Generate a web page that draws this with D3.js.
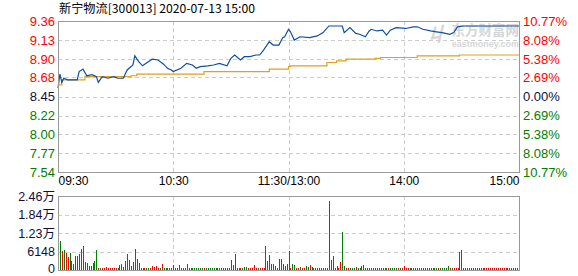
<!DOCTYPE html>
<meta charset="utf-8">
<style>
body { margin: 0; background: #fff; }
text { font-family: "Liberation Sans", "Noto Sans CJK SC", sans-serif; font-size: 12px; }
.grid line { stroke: #ccc; stroke-dasharray: 4,3; shape-rendering: crispEdges; }
.frame { fill: none; stroke: #999; shape-rendering: crispEdges; }
</style>
<svg width="578" height="276"></svg>
<script src="https://cdn.jsdelivr.net/npm/d3@7"></script>
<script>

var title = "新宁物流[300013] 2020-07-13 15:00";
var prevClose = 8.45;

var priceTicks = [9.36, 9.13, 8.90, 8.68, 8.45, 8.22, 8.00, 7.77, 7.54];
var pctTicks = ["10.77%", "8.08%", "5.38%", "2.69%", "0.00%", "2.69%", "5.38%", "8.08%", "10.77%"];
var timeTicks = [0, 60, 120, 180, 240];
var timeLabels = ["09:30", "10:30", "11:30/13:00", "14:00", "15:00"];
var volTicks = [24600, 18450, 12300, 6148, 0];
var volLabels = ["2.46万", "1.84万", "1.23万", "6148", "0"];

// minute index -> price
var priceMin = [0, 1, 2, 3, 5, 10, 11, 13, 15, 17, 18, 20, 21, 23, 26, 29, 31, 34, 36, 39, 40, 42, 44, 47, 49, 52, 55, 57, 59, 60,
  64, 67, 70, 72, 74, 78, 81, 84, 88, 90, 92, 95, 97, 100, 103, 105, 107, 110, 112, 115, 117, 118, 120,
  121, 123, 126, 131, 135, 138, 141, 148, 149, 152, 155, 157, 160, 162, 163, 166, 169, 171, 173, 176,
  181, 185, 187, 190, 194, 197, 200, 204, 206, 208, 211, 240];
var priceVal = [8.55, 8.72, 8.62, 8.67, 8.65, 8.65, 8.75, 8.78, 8.70, 8.71, 8.71, 8.69, 8.62, 8.69, 8.67, 8.69, 8.67, 8.67, 8.77, 8.83, 8.94, 8.87, 8.82, 8.87, 8.90, 8.89, 8.84, 8.79, 8.77, 8.75,
  8.79, 8.85, 8.83, 8.79, 8.81, 8.82, 8.83, 8.85, 8.82, 8.91, 8.95, 8.89, 8.93, 8.93, 8.95, 8.95, 9.01, 9.11, 9.07, 9.07, 9.16, 9.17, 9.26,
  9.23, 9.13, 9.17, 9.16, 9.18, 9.22, 9.30, 9.30, 9.22, 9.28, 9.21, 9.20, 9.17, 9.24, 9.26, 9.24, 9.25, 9.19, 9.25, 9.28,
  9.27, 9.29, 9.29, 9.26, 9.24, 9.23, 9.22, 9.20, 9.22, 9.29, 9.30, 9.30];

var avgMin = [0, 2, 8, 14, 38, 41, 75, 76, 109, 110, 120, 121, 138, 140, 145, 150, 165, 168, 187, 209, 240];
var avgVal = [8.59, 8.65, 8.65, 8.69, 8.70, 8.72, 8.72, 8.75, 8.75, 8.78, 8.81, 8.82, 8.82, 8.86, 8.88, 8.90, 8.91, 8.92, 8.94, 8.95, 8.95];

var volumes = [
  13000, 9700, 6400, 6700, 5600, 4200, 5600, 3100, 2100, 4700,
  4500, 5400, 7100, 8100, 2600, 2300, 1400, 1200, 2300, 2900,
  6700, 600, 600, 600, 600, 900, 600, 600, 600, 600,
  600, 600, 1800, 2100, 900, 2900, 5400, 3400, 1200, 2700,
  7100, 3800, 2300, 600, 600, 600, 600, 600, 600, 1400,
  900, 1300, 600, 600, 2100, 600, 600, 600, 600, 600,
  1800, 600, 600, 1800, 600, 600, 600, 2100, 600, 600,
  600, 600, 600, 600, 600, 600, 600, 600, 600, 600,
  600, 600, 600, 600, 600, 700, 600, 600, 600, 600,
  3400, 1500, 5400, 600, 600, 700, 600, 900, 900, 600,
  600, 600, 1500, 700, 600, 600, 600, 600, 8100, 3000,
  5100, 2000, 2000, 1300, 600, 3800, 3800, 2000, 1300, 2000,
  6200, 700, 2100, 1500, 600, 600, 900, 600, 600, 1200,
  900, 1500, 900, 600, 600, 600, 600, 600, 600, 600,
  600, 22800, 3400, 4500, 600, 1200, 600, 2600, 12700, 1200,
  600, 800, 600, 600, 600, 900, 600, 600, 1200, 1600,
  600, 600, 600, 600, 600, 600, 600, 600, 600, 600,
  600, 600, 600, 600, 600, 600, 600, 600, 600, 600,
  1300, 600, 800, 600, 600, 600, 600, 600, 600, 600,
  600, 600, 600, 600, 600, 600, 600, 600, 600, 600,
  600, 600, 600, 1300, 600, 600, 600, 600, 600, 5900,
  6600, 600, 600, 600, 600, 600, 600, 600, 600, 600,
  600, 600, 600, 600, 600, 600, 600, 600, 600, 600,
  600, 600, 600, 600, 600, 600, 600, 600, 600, 600,
  600];
var volDirs =
  "rgrgrrgrrr" + "rrrggggrrg" + "grgrrrrrrr" + "rggrrgrrrr" + "rrgggrggrr" +
  "rrrgrggrgg" + "ggrrgrrrgg" + "ggggggrggg" + "ggggrrgggr" + "rrgggrgggr" +
  "rrrrgrrrrr" + "rggrgrrgrg" + "rrggrrgrrg" + "grgrrrrrrr" + "rrrrrrrrgg" +
  "rrgggrgggg" + "rrrgggrggg" + "ggrggggrgr" + "rrrgggggrg" + "gggrggggrg" +
  "ggggrgrrrr" + "rrrrrrrrrr" + "rrrrrrrrrr" + "rrrrrrrrrr" + "r";

var svg = d3.select("svg");

var left = 58, right = 519;
var x = d3.scaleLinear().domain([0, 240]).range([left, right]);
var yP = d3.scaleLinear().domain([7.54, 9.36]).range([172, 21]);
var yV = d3.scaleLinear().domain([0, 24600]).range([270, 196]);

// title
svg.append("text")
    .attr("x", 59).attr("y", 13)
    .attr("textLength", 196).attr("lengthAdjust", "spacingAndGlyphs")
    .style("font-family", "'Noto Sans CJK SC', sans-serif")
    .style("fill", "#000")
    .text(title);

// watermark
var wm = svg.append("g").style("fill", "#d6d6d6");
wm.append("text").attr("x", 519).attr("y", 34.5).attr("text-anchor", "end")
    .style("font-size", "13.5px").style("font-weight", "bold")
    .style("font-family", "'Noto Sans CJK SC', sans-serif").text("东方财富网");
wm.append("text").attr("x", 519).attr("y", 47).attr("text-anchor", "end")
    .style("font-size", "9px").style("font-weight", "bold").text("eastmoney.com");
wm.append("text").attr("x", 436).attr("y", 41).attr("text-anchor", "middle")
    .style("font-size", "19px").style("font-weight", "bold").style("font-style", "italic")
    .style("font-family", "'Noto Sans CJK SC', sans-serif").text("丩");

// grids
var g1 = svg.append("g").attr("class", "grid");
g1.selectAll(".h").data(priceTicks.slice(1, -1)).enter().append("line")
    .attr("x1", left).attr("x2", right)
    .attr("y1", function(d) { return Math.round(yP(d)) + 0.5; })
    .attr("y2", function(d) { return Math.round(yP(d)) + 0.5; });
g1.selectAll(".v").data(timeTicks.slice(1, -1)).enter().append("line")
    .attr("x1", function(d) { return Math.round(x(d)) + 0.5; })
    .attr("x2", function(d) { return Math.round(x(d)) + 0.5; })
    .attr("y1", 21).attr("y2", 172);

var g2 = svg.append("g").attr("class", "grid");
g2.selectAll(".h").data(volTicks.slice(1, -1)).enter().append("line")
    .attr("x1", left).attr("x2", right)
    .attr("y1", function(d) { return Math.round(yV(d)) + 0.5; })
    .attr("y2", function(d) { return Math.round(yV(d)) + 0.5; });
g2.selectAll(".v").data(timeTicks.slice(1, -1)).enter().append("line")
    .attr("x1", function(d) { return Math.round(x(d)) + 0.5; })
    .attr("x2", function(d) { return Math.round(x(d)) + 0.5; })
    .attr("y1", 196).attr("y2", 270);

// volume bars
svg.append("g").selectAll("line").data(volumes).enter().append("line")
    .attr("x1", function(d, i) { return Math.round(x(i)) + 0.5; })
    .attr("x2", function(d, i) { return Math.round(x(i)) + 0.5; })
    .attr("y1", yV(0))
    .attr("y2", function(d) { return yV(d); })
    .style("stroke", function(d, i) { return volDirs[i] === "g" ? "#008000" : "#ff0000"; })
    .style("shape-rendering", "crispEdges");

// lines
var avgData = avgMin.map(function(m, i) { return [m, avgVal[i]]; });
var priceData = priceMin.map(function(m, i) { return [m, priceVal[i]]; });
var line = d3.line()
    .x(function(d) { return x(d[0]); })
    .y(function(d) { return yP(d[1]); })
    .curve(d3.curveStepAfter);

svg.append("path").datum(avgData)
    .attr("d", line)
    .style("fill", "none").style("stroke", "#e0a020").style("stroke-width", 1.2);

svg.append("path").datum(priceData)
    .attr("d", line.curve(d3.curveLinear))
    .style("fill", "none").style("stroke", "#0d4fa3").style("stroke-width", 1.2);

// frames
svg.append("rect").attr("class", "frame")
    .attr("x", left + 0.5).attr("y", 21.5).attr("width", right - left).attr("height", 151);
svg.append("rect").attr("class", "frame")
    .attr("x", left + 0.5).attr("y", 196.5).attr("width", right - left).attr("height", 74);

function pColor(d) {
  if (Math.abs(d - prevClose) < 0.001) return "#10103a";
  return d > prevClose ? "#ff0000" : "#008000";
}

// price axis left
var axL = svg.append("g").attr("transform", "translate(" + (left - 1) + ",0)")
    .call(d3.axisLeft(yP).tickValues(priceTicks).tickSize(0).tickPadding(2)
      .tickFormat(d3.format(".2f")));
axL.select(".domain").remove();
axL.selectAll("text").style("font-size", "13px").style("font-family", "'Liberation Sans', sans-serif")
    .style("fill", function(d) { return pColor(d); });

// percent axis right
var axR = svg.append("g").attr("transform", "translate(" + (right + 2) + ",0)")
    .call(d3.axisRight(yP).tickValues(priceTicks).tickSize(0).tickPadding(2)
      .tickFormat(function(d, i) { return pctTicks[i]; }));
axR.select(".domain").remove();
axR.selectAll("text").style("font-size", "13px").style("font-family", "'Liberation Sans', sans-serif")
    .style("fill", function(d) { return pColor(d); });

// time axis
var axB = svg.append("g").attr("transform", "translate(0,176)")
    .call(d3.axisBottom(x).tickValues(timeTicks).tickSize(0).tickPadding(0)
      .tickFormat(function(d, i) { return timeLabels[i]; }));
axB.select(".domain").remove();
axB.selectAll("text").style("fill", "#000").style("font-size", "12px")
    .attr("text-anchor", function(d, i) { return i === 0 ? "start" : (i === timeTicks.length - 1 ? "end" : "middle"); });

// volume axis
var axV = svg.append("g").attr("transform", "translate(" + (left - 2) + ",0)")
    .call(d3.axisLeft(yV).tickValues(volTicks).tickSize(0).tickPadding(1)
      .tickFormat(function(d, i) { return volLabels[i]; }));
axV.select(".domain").remove();
axV.selectAll("text").style("fill", "#10103a").style("font-size", "12.5px")
    .attr("dy", function(d) { return d === 0 ? "0.2em" : "0.32em"; });

</script>
